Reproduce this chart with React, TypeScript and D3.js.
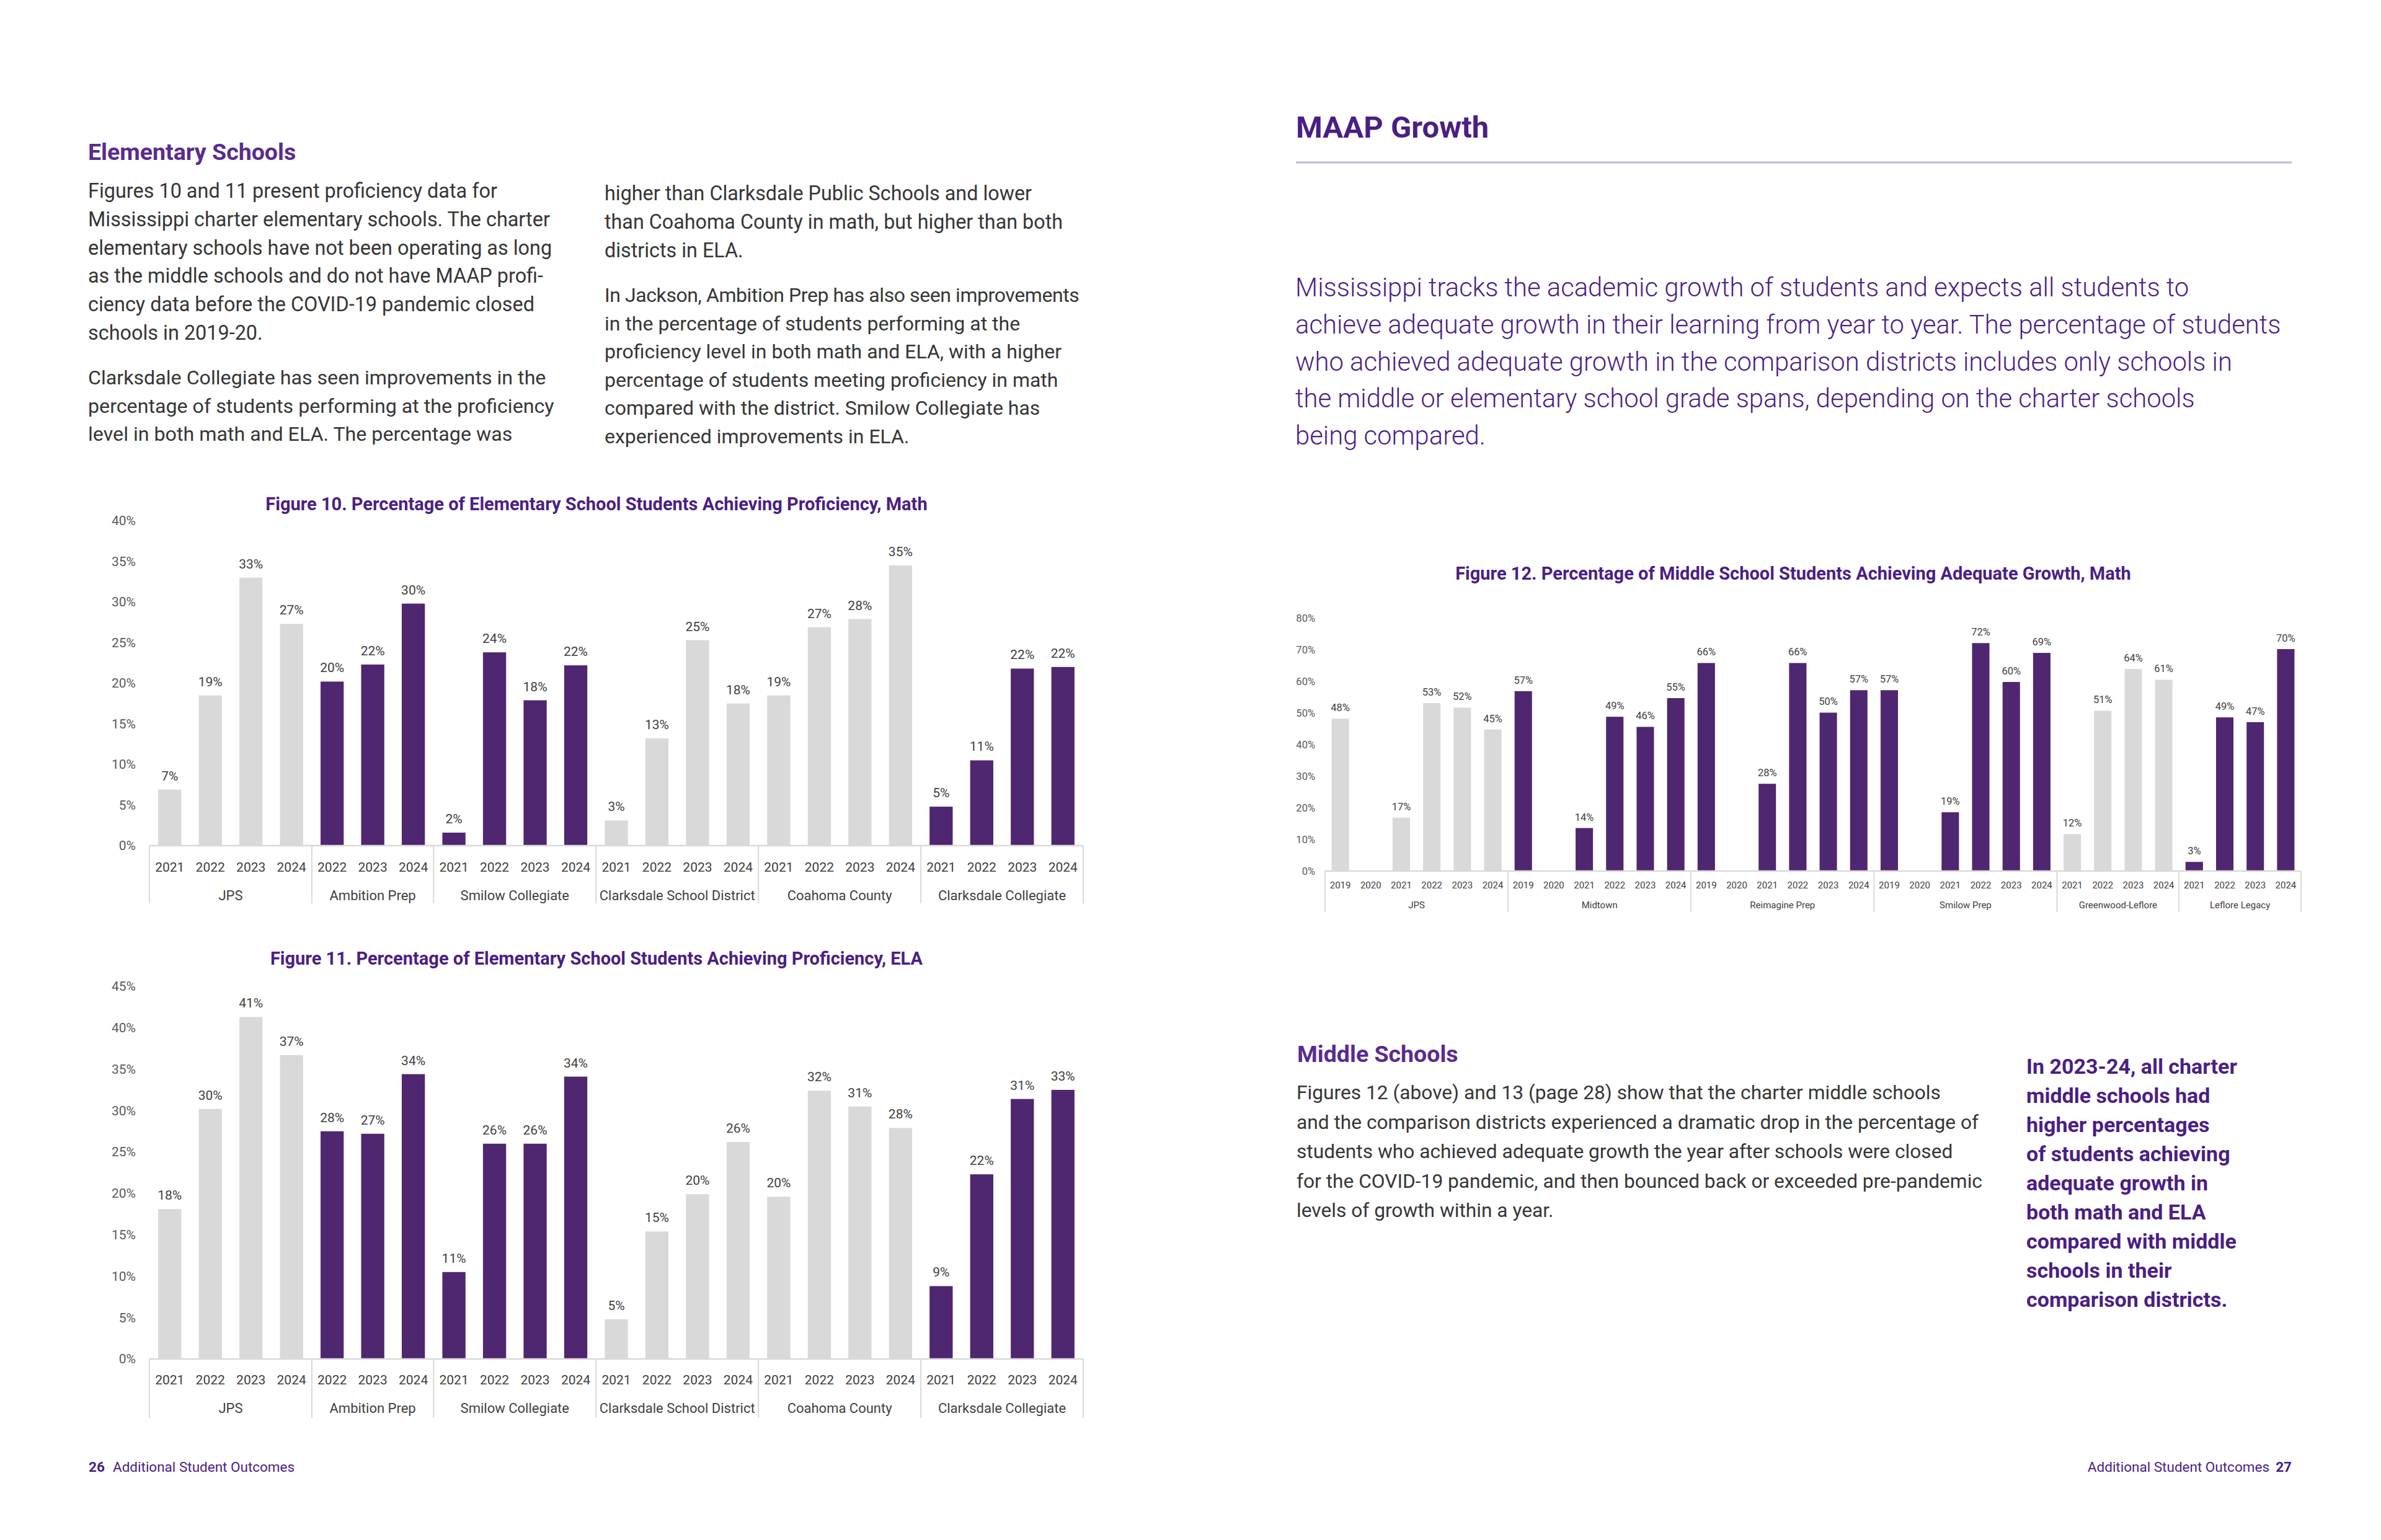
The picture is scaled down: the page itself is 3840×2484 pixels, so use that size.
import * as d3 from "d3"

// ---- chart data ----
const fig10Groups = ["JPS", "Ambition Prep", "Smilow Collegiate", "Clarksdale School District", "Coahoma County", "Clarksdale Collegiate"]
const fig10Years = [
  ["2021", "2022", "2023", "2024"],
  ["2022", "2023", "2024"],
  ["2021", "2022", "2023", "2024"],
  ["2021", "2022", "2023", "2024"],
  ["2021", "2022", "2023", "2024"],
  ["2021", "2022", "2023", "2024"],
]
const fig10Values = [
  [6.9, 18.5, 33.0, 27.3],
  [20.2, 22.3, 29.8],
  [1.6, 23.8, 17.9, 22.2],
  [3.1, 13.2, 25.3, 17.5],
  [18.5, 26.9, 27.9, 34.5],
  [4.8, 10.5, 21.8, 22.0],
]
const fig10Charter = [false, true, true, false, false, true]

const fig11Groups = fig10Groups
const fig11Years = fig10Years
const fig11Values = [
  [18.1, 30.2, 41.3, 36.7],
  [27.5, 27.2, 34.4],
  [10.5, 26.0, 26.0, 34.1],
  [4.8, 15.4, 19.9, 26.2],
  [19.6, 32.4, 30.5, 27.9],
  [8.8, 22.3, 31.4, 32.5],
]
const fig11Charter = fig10Charter

const fig12Groups = ["JPS", "Midtown", "Reimagine Prep", "Smilow Prep", "Greenwood-Leflore", "Leflore Legacy"]
const fig12Years = [
  ["2019", "2020", "2021", "2022", "2023", "2024"],
  ["2019", "2020", "2021", "2022", "2023", "2024"],
  ["2019", "2020", "2021", "2022", "2023", "2024"],
  ["2019", "2020", "2021", "2022", "2023", "2024"],
  ["2021", "2022", "2023", "2024"],
  ["2021", "2022", "2023", "2024"],
]
const fig12Values: (number | null)[][] = [
  [48.2, null, 16.9, 53.1, 51.7, 44.8],
  [56.9, null, 13.6, 48.8, 45.6, 54.7],
  [65.8, null, 27.6, 65.8, 50.1, 57.2],
  [57.2, null, 18.6, 72.1, 59.8, 69.0],
  [11.7, 50.7, 63.9, 60.5],
  [2.9, 48.6, 47.1, 70.2],
]
const fig12Charter = [false, true, true, true, false, true]

// ---- page text ----
const leftCol1 = [
  ["Figures 10 and 11 present proficiency data for",
    "Mississippi charter elementary schools. The charter",
    "elementary schools have not been operating as long",
    "as the middle schools and do not have MAAP profi-",
    "ciency data before the COVID-19 pandemic closed",
    "schools in 2019-20."],
  ["Clarksdale Collegiate has seen improvements in the",
    "percentage of students performing at the proficiency",
    "level in both math and ELA. The percentage was"],
]
const leftCol2 = [
  ["higher than Clarksdale Public Schools and lower",
    "than Coahoma County in math, but higher than both",
    "districts in ELA."],
  ["In Jackson, Ambition Prep has also seen improvements",
    "in the percentage of students performing at the",
    "proficiency level in both math and ELA, with a higher",
    "percentage of students meeting proficiency in math",
    "compared with the district. Smilow Collegiate has",
    "experienced improvements in ELA."],
]
const introLines = [
  "Mississippi tracks the academic growth of students and expects all students to",
  "achieve adequate growth in their learning from year to year. The percentage of students",
  "who achieved adequate growth in the comparison districts includes only schools in",
  "the middle or elementary school grade spans, depending on the charter schools",
  "being compared.",
]
const middleLines = [
  "Figures 12 (above) and 13 (page 28) show that the charter middle schools",
  "and the comparison districts experienced a dramatic drop in the percentage of",
  "students who achieved adequate growth the year after schools were closed",
  "for the COVID-19 pandemic, and then bounced back or exceeded pre-pandemic",
  "levels of growth within a year.",
]
const calloutLines = [
  "In 2023-24, all charter", "middle schools had", "higher percentages", "of students achieving",
  "adequate growth in", "both math and ELA", "compared with middle", "schools in their", "comparison districts.",
]

const PURPLE = "#4f2670"
const GRAY = "#d9d9d9"
const HEAD = "#4b1e84"
const BODY = "#363636"
const FONT = "Roboto, 'Noto Sans', sans-serif"

type ChartProps = {
  title: string
  titleY: number
  groups: string[]
  years: string[][]
  values: (number | null)[][]
  charter: boolean[]
  x0: number
  x1: number
  yBase: number
  yTop: number
  max: number
  tickStep: number
  tickRight: number
  fs: number
  yearFs: number
  groupFs: number
  yearDy: number
  groupDy: number
  sepDy: number
  labelGap: number
}

function BarChart(p: ChartProps) {
  const bars = p.groups.flatMap((g, gi) =>
    p.years[gi].map((yr, i) => ({ key: `${g}|${yr}`, g, gi, yr, v: p.values[gi][i] }))
  )
  const x = d3.scaleBand<string>()
    .domain(bars.map(b => b.key))
    .range([p.x0, p.x1])
    .paddingInner(0.43)
    .paddingOuter(0.215)
  const y = d3.scaleLinear().domain([0, p.max]).range([p.yBase, p.yTop])
  const ticks = d3.range(0, p.max + 0.001, p.tickStep)
  const step = x.step()
  // group spans
  const spans = p.groups.map((g, gi) => {
    const keys = bars.filter(b => b.gi === gi)
    const start = (x(keys[0].key) as number) - (step - x.bandwidth()) / 2
    return { g, start, end: start + keys.length * step }
  })
  return (
    <g fontFamily={FONT}>
      <text x={(p.x0 + p.x1) / 2 - 32} y={p.titleY} textAnchor="middle" fontSize={29} fontWeight={700} fill={HEAD}>{p.title}</text>
      {ticks.map(t => (
        <text key={t} x={p.tickRight} y={y(t)} dy="0.35em" textAnchor="end" fontSize={p.fs} fill="#595959">{`${t}%`}</text>
      ))}
      {bars.map(b => b.v == null ? null : (
        <g key={b.key}>
          <rect x={x(b.key)} y={y(b.v)} width={x.bandwidth()} height={p.yBase - y(b.v)} fill={p.charter[b.gi] ? PURPLE : GRAY} />
          <text x={(x(b.key) as number) + x.bandwidth() / 2} y={y(b.v) - p.labelGap} textAnchor="middle" fontSize={p.fs} fill="#404040">{`${Math.round(b.v)}%`}</text>
        </g>
      ))}
      <line x1={p.x0} x2={p.x1} y1={p.yBase} y2={p.yBase} stroke={GRAY} strokeWidth={2.5} />
      {bars.map(b => (
        <text key={b.key + "-yr"} x={(x(b.key) as number) + x.bandwidth() / 2} y={p.yBase + p.yearDy} dy="0.35em" textAnchor="middle" fontSize={p.yearFs} fill="#404040">{b.yr}</text>
      ))}
      {spans.map((s, i) => (
        <g key={s.g}>
          {i === 0 && <line x1={s.start} x2={s.start} y1={p.yBase} y2={p.yBase + p.sepDy} stroke={GRAY} strokeWidth={2} />}
          <line x1={s.end} x2={s.end} y1={p.yBase} y2={p.yBase + p.sepDy} stroke={GRAY} strokeWidth={2} />
          <text x={(s.start + s.end) / 2} y={p.yBase + p.groupDy} dy="0.35em" textAnchor="middle" fontSize={p.groupFs} fill="#404040">{s.g}</text>
        </g>
      ))}
    </g>
  )
}

function Lines({ lines, x, y, lh, firstSpacing, ...rest }: any) {
  return (
    <text x={x} y={y} {...rest}>
      {lines.map((l: string, i: number) => (
        <tspan key={i} x={x} y={y + i * lh} letterSpacing={i === 0 && firstSpacing ? firstSpacing : undefined}>{l}</tspan>
      ))}
    </text>
  )
}

export default function App() {
  return (
    <svg width={3840} height={2484} viewBox="0 0 3840 2484"
      style={{ position: "absolute", left: 0, top: 0, background: "#fff" }} fontFamily={FONT}>
      <rect width={3840} height={2484} fill="#fff" />

      {/* left page */}
      <text x={142} y={258} fontSize={37.5} fontWeight={700} fill="#5a2b8f">Elementary Schools</text>
      <Lines lines={leftCol1[0]} x={142} y={319} lh={45.8} fontSize={32.4} fill={BODY} />
      <Lines lines={leftCol1[1]} x={142} y={620} lh={45.5} fontSize={32.2} fill={BODY} />
      <Lines lines={leftCol2[0]} x={975} y={323} lh={45.8} fontSize={32.3} fill={BODY} />
      <Lines lines={leftCol2[1]} x={975} y={487} lh={45.5} fontSize={32} firstSpacing={-0.42} fill={BODY} />

      <BarChart title="Figure 10. Percentage of Elementary School Students Achieving Proficiency, Math" titleY={823}
        groups={fig10Groups} years={fig10Years} values={fig10Values} charter={fig10Charter}
        x0={241} x1={1747} yBase={1364} yTop={840} max={40} tickStep={5} tickRight={219}
        fs={21} yearFs={21} groupFs={22} yearDy={35} groupDy={80} sepDy={93} labelGap={15} />

      <BarChart title="Figure 11. Percentage of Elementary School Students Achieving Proficiency, ELA" titleY={1556}
        groups={fig11Groups} years={fig11Years} values={fig11Values} charter={fig11Charter}
        x0={241} x1={1747} yBase={2192} yTop={1591} max={45} tickStep={5} tickRight={219}
        fs={21} yearFs={21} groupFs={22} yearDy={34} groupDy={79} sepDy={95} labelGap={15} />

      <text x={143} y={2374} fontSize={22.5} fontWeight={700} fill={HEAD}>26</text>
      <text x={182} y={2374} fontSize={22.5} fill={HEAD}>Additional Student Outcomes</text>

      {/* right page */}
      <text x={2090} y={222} fontSize={49} fontWeight={700} fill={HEAD}>MAAP Growth</text>
      <line x1={2090} x2={3696} y1={262} y2={262} stroke="#c4b6dd" strokeWidth={3} />
      <Lines lines={introLines} x={2089} y={478} lh={59.8} fontSize={41.8} fontWeight={300} fill="#4b2185" />

      <BarChart title="Figure 12. Percentage of Middle School Students Achieving Adequate Growth, Math" titleY={935}
        groups={fig12Groups} years={fig12Years} values={fig12Values} charter={fig12Charter}
        x0={2137} x1={3711} yBase={1405} yTop={997} max={80} tickStep={10} tickRight={2121}
        fs={16.5} yearFs={15} groupFs={15} yearDy={23} groupDy={55} sepDy={66} labelGap={12} />

      <text x={2092} y={1713} fontSize={37.5} fontWeight={700} fill="#5a2b8f">Middle Schools</text>
      <Lines lines={middleLines} x={2091} y={1773} lh={47.5} fontSize={31.7} fill={BODY} />
      <Lines lines={calloutLines} x={3268} y={1732} lh={47} fontSize={34} fontWeight={700} fill={HEAD} />

      <text x={3696} y={2374} fontSize={22.5} fontWeight={700} fill={HEAD} textAnchor="end">27</text>
      <text x={3660} y={2374} fontSize={22.5} fill={HEAD} textAnchor="end">Additional Student Outcomes</text>
    </svg>
  )
}
